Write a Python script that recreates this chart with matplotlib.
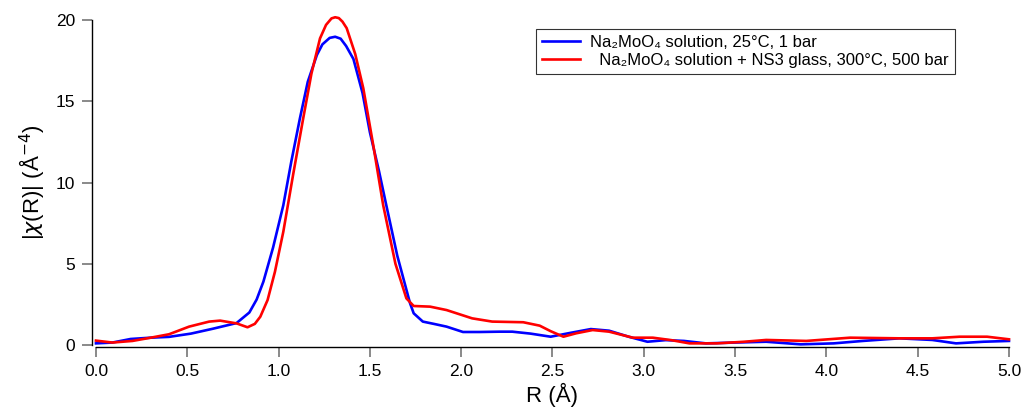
import matplotlib.pyplot as plt
import numpy as np

plt.rcParams['font.family'] = ['Liberation Sans', 'DejaVu Sans']

# blue: Na2MoO4 solution, 25C, 1 bar
r_blue = [0.0, 0.09, 0.19, 0.3, 0.4, 0.52, 0.64, 0.77, 0.84, 0.88, 0.917, 0.97, 1.026, 1.07, 1.117,
          1.16, 1.21, 1.24, 1.28, 1.31, 1.34, 1.37, 1.41, 1.46, 1.50, 1.55, 1.59, 1.65, 1.72, 1.74, 1.79,
          1.85, 1.92, 2.01, 2.1, 2.21, 2.28, 2.38, 2.49, 2.6, 2.71, 2.81, 2.92, 3.02, 3.12,
          3.22, 3.34, 3.5, 3.67, 3.86, 4.04, 4.2, 4.40, 4.58, 4.71, 4.86, 5.0]
y_blue = [0.1, 0.15, 0.37, 0.45, 0.5, 0.7, 1.0, 1.35, 2.0, 2.8, 3.9, 6.0, 8.6, 11.3, 13.95,
          16.2, 17.85, 18.5, 18.9, 18.97, 18.85, 18.4, 17.6, 15.5, 13.1, 10.7, 8.6, 5.5, 2.57, 1.95, 1.44,
          1.3, 1.13, 0.8, 0.8, 0.82, 0.82, 0.7, 0.51, 0.75, 0.98, 0.88, 0.5, 0.2, 0.3,
          0.25, 0.1, 0.15, 0.2, 0.04, 0.1, 0.25, 0.41, 0.31, 0.1, 0.2, 0.25]

# red: Na2MoO4 solution + NS3 glass, 300C, 500 bar
r_red = [0.0, 0.09, 0.2, 0.3, 0.4, 0.51, 0.62, 0.68, 0.77, 0.83, 0.87, 0.9, 0.94, 0.98, 1.026,
         1.08, 1.135, 1.18, 1.227, 1.26, 1.29, 1.31, 1.33, 1.35, 1.373, 1.42, 1.464, 1.52, 1.573, 1.64,
         1.70, 1.74, 1.83, 1.92, 2.06, 2.17, 2.34, 2.43, 2.49, 2.56, 2.63, 2.72, 2.81, 2.94,
         3.05, 3.15, 3.25, 3.40, 3.55, 3.67, 3.89, 4.13, 4.40, 4.58, 4.73, 4.88, 5.0]
y_red = [0.27, 0.15, 0.25, 0.45, 0.66, 1.13, 1.44, 1.5, 1.33, 1.09, 1.3, 1.74, 2.77, 4.5, 6.97,
         10.5, 13.95, 16.7, 18.87, 19.7, 20.1, 20.17, 20.12, 19.9, 19.5, 17.9, 15.8, 12.2, 8.6, 5.0,
         2.87, 2.4, 2.36, 2.15, 1.64, 1.44, 1.4, 1.19, 0.85, 0.51, 0.72, 0.92, 0.82, 0.45,
         0.45, 0.3, 0.1, 0.1, 0.2, 0.31, 0.25, 0.45, 0.41, 0.41, 0.51, 0.51, 0.35]

labels = ['Na\u2082MoO\u2084 solution, 25°C, 1 bar',
          '  Na\u2082MoO\u2084 solution + NS3 glass, 300°C, 500 bar']

fig = plt.figure(figsize=(10.23, 4.11), dpi=100)
ax = fig.add_axes([0.0938, 0.1606, 0.8925, 0.7907])

ax.plot(r_blue, y_blue, color='#0000ff', lw=1.9, label=labels[0])
ax.plot(r_red, y_red, color='#ff0000', lw=1.9, label=labels[1])

ax.set_xlim(0, 5)
ax.set_ylim(0, 20)
ax.set_xticks(np.arange(0, 5.01, 0.5))
ax.set_xticklabels(['%.1f' % v for v in np.arange(0, 5.01, 0.5)])
ax.set_yticks([0, 5, 10, 15, 20])

for s in ['top', 'right']:
    ax.spines[s].set_visible(False)
ax.spines['left'].set_position(('outward', 3))
ax.spines['bottom'].set_position(('outward', 1.5))
ax.spines['left'].set_linewidth(1.0)
ax.spines['bottom'].set_linewidth(1.0)
ax.tick_params(axis='both', direction='out', length=7, width=1.3, color='#808080',
               labelsize=12.5, pad=5)
for l in ax.get_lines():
    l.set_clip_on(False)

ax.set_xlabel('R (Å)', fontsize=16, labelpad=3)
ax.set_ylabel(r'|$\chi$(R)| (Å$^{-4}$)', fontsize=16, labelpad=6)

leg = ax.legend(loc='upper left', bbox_to_anchor=(0.482, 0.972), fontsize=12,
                frameon=True, fancybox=False, edgecolor='black', handlelength=2.3,
                borderpad=0.35, labelspacing=0.18, handletextpad=0.6, borderaxespad=0)
leg.get_frame().set_linewidth(0.8)

fig.savefig('out.png', dpi=100)
